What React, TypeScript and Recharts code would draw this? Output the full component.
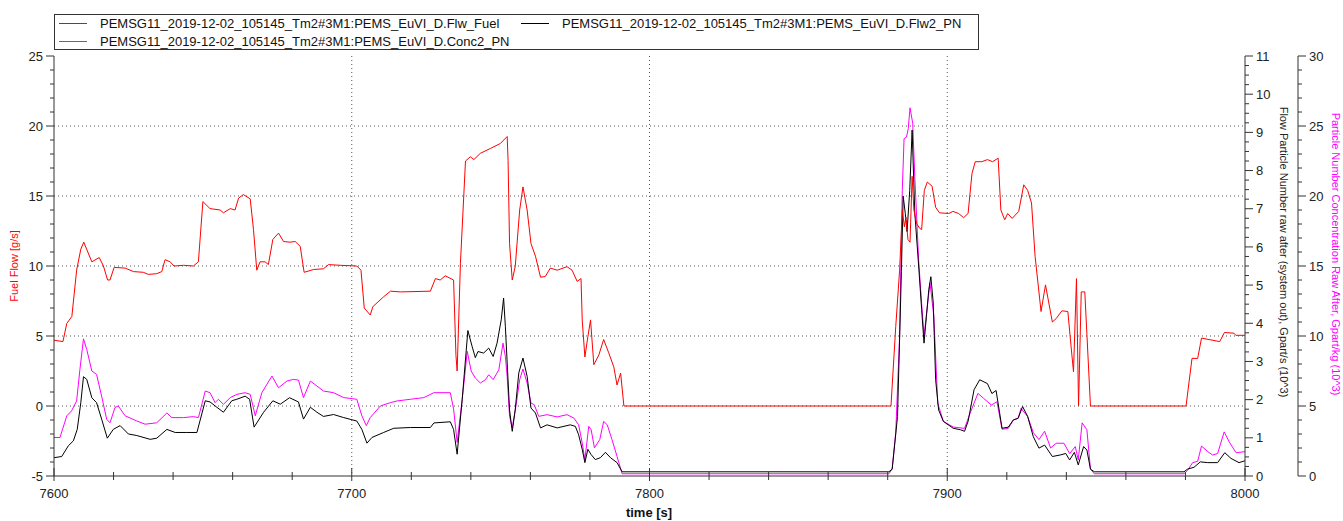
import { CartesianGrid, Legend, Line, LineChart, XAxis, YAxis } from "recharts";

const FONT = '"Liberation Sans", Arial, sans-serif';
const AXIS = "#333";

// [time s, fuel flow g/s]
const fuelFlow: [number, number][] = [
  [7600, 4.7], [7603, 4.6], [7604.3, 5.9], [7606, 6.4], [7607.6, 9.7], [7609, 11.2], [7610, 11.7],
  [7612.7, 10.3], [7615.2, 10.6], [7616.6, 10.0], [7618, 9.0], [7618.8, 9.0], [7620.2, 9.9],
  [7623.9, 9.85], [7626.7, 9.6], [7630, 9.55], [7631.7, 9.4], [7634.5, 9.45], [7636.2, 9.6],
  [7637.3, 10.45], [7639, 10.3], [7640.3, 10.0], [7643.5, 10.05], [7646.8, 10.0], [7648.5, 10.3],
  [7650, 14.6], [7652.4, 14.1], [7655.8, 14.0], [7656.9, 13.8], [7659.2, 14.1], [7660.8, 14.0],
  [7662, 14.85], [7663.6, 15.1], [7665.9, 14.8], [7667, 12.6], [7668.1, 9.7], [7669.2, 10.3],
  [7670.9, 10.3], [7672, 10.1], [7673.5, 11.9], [7675.4, 12.35], [7677.1, 11.75], [7679.3, 11.7],
  [7681, 11.75], [7682.7, 11.4], [7684, 9.55], [7687.2, 9.75], [7690.5, 9.8], [7692.2, 10.1],
  [7696.1, 10.05], [7701.7, 10.0], [7703.1, 9.7], [7704.2, 7.0], [7706.2, 6.5], [7707.1, 7.1],
  [7710.7, 7.8], [7713, 8.2], [7716.3, 8.15], [7726.4, 8.2], [7728.1, 9.1], [7729.7, 9.0],
  [7731.4, 9.3], [7734.2, 9.0], [7735, 3.6], [7735.4, 2.5], [7736.5, 10.2], [7738.2, 17.5],
  [7739.8, 17.8], [7741, 17.6], [7743.2, 18.05], [7746.6, 18.4], [7749.9, 18.75], [7752.2, 19.25],
  [7752.5, 17.55], [7753, 11.6], [7753.9, 9.0], [7754.9, 9.95], [7756.4, 14.0], [7757.5, 15.65],
  [7758.9, 14.0], [7760.2, 11.6], [7761.7, 10.7], [7763.4, 9.2], [7765, 9.25], [7766.7, 9.85],
  [7769, 9.7], [7772.3, 9.95], [7774, 9.7], [7775.7, 8.9], [7777, 9.1], [7777.4, 6.15],
  [7778.3, 3.5], [7779.3, 4.95], [7780.2, 6.15], [7781.3, 2.95], [7783, 3.65], [7784.6, 4.75],
  [7786.3, 3.8], [7788, 2.8], [7789.1, 1.5], [7790.3, 2.35], [7791.4, 0], [7881.1, 0],
  [7882.7, 5.67], [7884, 9.7], [7884.9, 14.0], [7885.6, 12.8], [7886.1, 13.5], [7886.8, 11.9],
  [7887.5, 11.7], [7888.2, 16.4], [7888.8, 14.0], [7889.7, 13.05], [7890.7, 12.7], [7891.4, 12.6],
  [7892.3, 15.4], [7893.3, 16.0], [7894.9, 15.7], [7896.1, 14.2], [7897.4, 13.8], [7900.5, 13.75],
  [7901.9, 13.9], [7903.8, 13.75], [7905.5, 13.45], [7907, 13.75], [7908.3, 16.6], [7909.4, 17.45],
  [7911.6, 17.45], [7913.5, 17.6], [7915.2, 17.45], [7917.1, 17.7], [7918, 14.0], [7919.3, 13.3],
  [7920.3, 13.75], [7921.8, 13.4], [7924, 13.9], [7925.7, 15.8], [7927, 15.4], [7928.3, 14.5],
  [7929.5, 10.7], [7931.5, 6.75], [7933, 8.65], [7935.3, 6.0], [7936.6, 6.25], [7938.5, 6.8],
  [7940.5, 6.75], [7941.7, 4.0], [7942.4, 2.45], [7943.4, 9.1], [7944.1, 0], [7945, 8.15],
  [7946.2, 8.15], [7948.1, 0], [7980.2, 0], [7982.2, 3.4], [7984.1, 3.4], [7985.4, 4.85],
  [7991.5, 4.6], [7993.1, 5.25], [7996.3, 5.2], [7996.9, 5.05], [8000, 5.05],
];

// [time s, particle number flow Gpart/s (10^3)]
const pnFlow: [number, number][] = [
  [7600, 0.48], [7602.6, 0.51], [7604.8, 0.79], [7606.5, 0.92], [7607.8, 1.22], [7609, 1.92],
  [7609.9, 2.6], [7611, 2.53], [7612.7, 2.05], [7614.3, 1.92], [7616, 1.49], [7617.9, 0.99],
  [7619.9, 1.22], [7622.2, 1.32], [7625, 1.1], [7627.8, 1.06], [7632.3, 0.96], [7634.5, 0.99],
  [7637.9, 1.22], [7640.7, 1.14], [7644.6, 1.14], [7648, 1.14], [7650.8, 1.97], [7652.4, 1.94],
  [7654.7, 1.8], [7656.9, 1.67], [7659.7, 1.97], [7661.4, 2.01], [7664.2, 2.09], [7665.7, 2.01],
  [7667.2, 1.28], [7670.4, 1.67], [7673.5, 1.97], [7676, 1.88], [7679.1, 2.05], [7682.1, 1.94],
  [7683.8, 1.49], [7686.1, 1.8], [7688.3, 1.67], [7690.5, 1.56], [7693.9, 1.61], [7697.3, 1.53],
  [7701.7, 1.44], [7703.4, 1.22], [7705.1, 0.86], [7706.8, 1.01], [7710.7, 1.14], [7714.1, 1.25],
  [7719.7, 1.27], [7726.4, 1.27], [7727.6, 1.39], [7733.1, 1.42], [7734.2, 1.22], [7735.4, 0.57],
  [7737.1, 2.01], [7739, 3.81], [7740.4, 3.4], [7741.5, 3.1], [7742.4, 3.26], [7744.3, 3.22],
  [7746, 3.35], [7747.5, 3.13], [7748.8, 3.48], [7750.2, 4.09], [7751, 4.66], [7751.6, 3.91],
  [7752.2, 2.96], [7753, 1.73], [7753.9, 1.17], [7754.9, 1.73], [7756.1, 2.7], [7757.5, 3.09],
  [7758.9, 2.61], [7760.2, 1.78], [7761.7, 1.65], [7763.4, 1.26], [7765.6, 1.34], [7769, 1.26],
  [7773.4, 1.34], [7775.1, 1.3], [7776.2, 1.08], [7777.4, 0.7], [7778.3, 0.35], [7779.3, 0.7],
  [7780.4, 0.56], [7781.8, 0.43], [7783.5, 0.48], [7785.2, 0.62], [7786.9, 0.48], [7789.1, 0.35],
  [7790.8, 0.11], [7880.4, 0.11], [7881.5, 0.18], [7883.3, 1.56], [7884.6, 5.35], [7885.2, 7.33],
  [7885.9, 6.88], [7886.5, 6.4], [7887.4, 7.48], [7888.2, 9.06], [7889.1, 6.89], [7890.4, 5.5],
  [7891.4, 4.36], [7892.2, 3.48], [7893, 4.18], [7893.8, 4.88], [7894.5, 5.22], [7895.3, 4.53],
  [7896.1, 2.52], [7897.1, 1.73], [7898.7, 1.43], [7902, 1.25], [7904.5, 1.21], [7905.8, 1.17],
  [7907, 1.43], [7909, 2.26], [7910.9, 2.52], [7913.5, 2.42], [7915, 2.16], [7916.4, 2.24],
  [7918.4, 1.25], [7920.5, 1.28], [7922.2, 1.47], [7923.8, 1.51], [7925.3, 1.82], [7927, 1.56],
  [7928.9, 1.03], [7930.8, 0.73], [7932.7, 0.81], [7935.3, 0.51], [7937.9, 0.55], [7939.8, 0.59],
  [7941.1, 0.42], [7942.7, 0.62], [7944, 0.29], [7945.8, 0.77], [7946.9, 0.68], [7948.1, 0.18],
  [7949.4, 0.11], [7979.5, 0.11], [7980.7, 0.18], [7982.9, 0.23], [7985, 0.37], [7987.5, 0.35],
  [7990.8, 0.35], [7993.2, 0.61], [7995.3, 0.46], [7998, 0.35], [8000, 0.4],
];

// [time s, particle number concentration Gpart/kg (10^3)]
const concPN: [number, number][] = [
  [7600, 2.75], [7602, 2.75], [7604.3, 4.3], [7605.9, 4.65], [7607.6, 5.36], [7608.7, 7.6],
  [7609.9, 9.8], [7611, 9.04], [7612.7, 7.5], [7614.3, 7.26], [7616, 5.7], [7617.7, 4.05],
  [7618.8, 3.8], [7620.5, 4.9], [7621.6, 5.0], [7623.9, 4.3], [7627.8, 3.93], [7630.6, 3.7],
  [7634.5, 3.8], [7637.9, 4.5], [7639.6, 4.17], [7643.5, 4.17], [7646.8, 4.24], [7648.5, 4.17],
  [7650.8, 6.07], [7652.4, 5.95], [7654.1, 5.24], [7655.2, 5.48], [7656.9, 5.12], [7659.2, 5.6],
  [7661.4, 5.83], [7664.2, 5.95], [7665.9, 5.83], [7667.6, 4.3], [7669.8, 5.95], [7673.2, 7.14],
  [7675.4, 6.3], [7678.2, 6.78], [7680.4, 6.9], [7682.1, 6.85], [7683.8, 5.6], [7686.1, 6.78],
  [7688.3, 6.43], [7690.5, 6.07], [7693.9, 5.95], [7697.3, 5.6], [7701.7, 5.48], [7703.4, 4.3],
  [7704.9, 3.6], [7706.2, 4.17], [7709.6, 5.0], [7713, 5.24], [7715.2, 5.36], [7719.7, 5.48],
  [7724.2, 5.6], [7727.6, 5.95], [7733.1, 5.95], [7734.2, 4.8], [7735.4, 2.4], [7737.1, 5.48],
  [7738.8, 8.9], [7740.1, 7.5], [7741.5, 7.0], [7743.2, 6.64], [7744.9, 6.88], [7746, 7.23],
  [7747.5, 6.88], [7749.4, 7.59], [7750.8, 9.49], [7751.6, 8.53], [7752.2, 7.11], [7753, 4.26],
  [7753.9, 3.43], [7755.3, 5.21], [7756.4, 6.88], [7757.5, 7.64], [7758.9, 6.64], [7760.2, 5.21],
  [7761.3, 5.09], [7762.8, 4.26], [7765.6, 4.38], [7769, 4.22], [7772.3, 4.38], [7774.6, 4.14],
  [7776.2, 3.66], [7777.4, 2.36], [7778.3, 1.17], [7779.6, 3.55], [7780.4, 3.31], [7781.5, 2.01],
  [7783.3, 2.6], [7784.6, 3.9], [7785.8, 3.66], [7787.4, 2.6], [7789.1, 1.4], [7790.8, 0.16],
  [7880.4, 0.16], [7881.5, 0.5], [7882.7, 3.1], [7884, 10.0], [7884.9, 20.4], [7885.5, 24.1],
  [7886.3, 24.2], [7886.9, 24.8], [7887.5, 26.3], [7888.4, 25.2], [7889.1, 21.4], [7890.4, 15.4],
  [7891.4, 12.3], [7892.2, 10.0], [7894.2, 13.8], [7895.5, 11.4], [7896.8, 5.2], [7898.7, 3.9],
  [7902, 3.5], [7905.8, 3.4], [7907.7, 4.5], [7910.3, 5.9], [7912.2, 5.55], [7914.8, 5.07],
  [7916.7, 5.3], [7918.4, 3.34], [7920.5, 3.4], [7922.2, 4.0], [7923.8, 4.13], [7924.8, 4.83],
  [7927, 4.25], [7928.9, 3.1], [7930.8, 2.6], [7932.7, 3.2], [7934.7, 2.0], [7936.6, 2.34],
  [7939.2, 2.34], [7941.1, 1.6], [7943, 2.1], [7944, 1.15], [7945.3, 3.8], [7946.9, 3.3],
  [7948.1, 0.5], [7949.4, 0.16], [7979.5, 0.16], [7980.7, 0.4], [7982.4, 0.95], [7984.1, 1.05],
  [7985.4, 2.14], [7987.5, 1.74], [7989.1, 1.5], [7990.8, 1.6], [7993, 3.15], [7994.7, 2.44],
  [7997, 1.66], [8000, 1.74],
];

const seriesNames = [
  "PEMSG11_2019-12-02_105145_Tm2#3M1:PEMS_EuVI_D.Flw_Fuel",
  "PEMSG11_2019-12-02_105145_Tm2#3M1:PEMS_EuVI_D.Flw2_PN",
  "PEMSG11_2019-12-02_105145_Tm2#3M1:PEMS_EuVI_D.Conc2_PN",
];
const seriesColors = ["#ff0000", "#000000", "#ff00ff"];

const timeTicks = [7600, 7700, 7800, 7900, 8000];
const fuelTicks = [-5, 0, 5, 10, 15, 20, 25];
const pnTicks = [0, 1, 2, 3, 4, 5, 6, 7, 8, 9, 10, 11];
const concTicks = [0, 5, 10, 15, 20, 25, 30];

// subdivide major ticks into minor steps
const withMinor = (major: number[], parts: number) => {
  const out: number[] = [];
  for (let i = 0; i < major.length - 1; i++) {
    const step = (major[i + 1] - major[i]) / parts;
    for (let k = 0; k < parts; k++) out.push(Math.round((major[i] + k * step) * 1000) / 1000);
  }
  out.push(major[major.length - 1]);
  return out;
};

const toPoints = (rows: [number, number][]) => rows.map(([t, v]) => ({ t, v }));

const textStyle = { fontFamily: FONT, fontSize: 13, fill: "#222" };

const makeYTick = (major: number[], dir: 1 | -1) => (props: any) => {
  const { x, y, payload } = props;
  const isMajor = major.includes(payload.value);
  const len = isMajor ? 8 : 4;
  return (
    <g>
      <line x1={x} x2={x + dir * len} y1={y} y2={y} stroke={AXIS} />
      {isMajor && (
        <text x={x + dir * 11} y={y} dy="0.36em" textAnchor={dir < 0 ? "end" : "start"} {...textStyle}>
          {payload.value}
        </text>
      )}
    </g>
  );
};

const BottomTick = (props: any) => {
  const { x, y, payload } = props;
  const isMajor = timeTicks.includes(payload.value);
  return (
    <g>
      <line x1={x} x2={x} y1={y - (isMajor ? 8 : 4)} y2={y + (isMajor ? 5 : 4)} stroke={AXIS} />
      {isMajor && (
        <text x={x} y={y + 22} textAnchor="middle" {...textStyle}>
          {payload.value}
        </text>
      )}
    </g>
  );
};

const TopTick = (props: any) => {
  const { x, y, payload } = props;
  const isMajor = timeTicks.includes(payload.value);
  return <line x1={x} x2={x} y1={y} y2={y + (isMajor ? 6 : 4)} stroke={AXIS} />;
};

const LegendBox = () => {
  const spots = [
    { left: 4, top: 8 },
    { left: 466, top: 8 },
    { left: 4, top: 26 },
  ];
  return (
    <div
      style={{
        position: "relative",
        width: 923,
        height: 34,
        border: "1px solid #333",
        background: "#fff",
        fontFamily: FONT,
        fontSize: 13,
        color: "#111",
      }}
    >
      {seriesNames.map((name, i) => (
        <div
          key={name}
          style={{
            position: "absolute",
            left: spots[i].left,
            top: spots[i].top - 8,
            height: 16,
            display: "flex",
            alignItems: "center",
            whiteSpace: "nowrap",
          }}
        >
          <div style={{ width: 28, height: 1, background: seriesColors[i], marginRight: 13, flex: "none" }} />
          <span>{name}</span>
        </div>
      ))}
    </div>
  );
};

const titleStyle = { fontFamily: FONT, fontSize: 11 };

export default function App() {
  return (
    <div style={{ position: "absolute", left: 0, top: 0, background: "#fff" }}>
      <LineChart width={1343} height={521} margin={{ top: 56, right: 0, bottom: 0, left: 0 }}>
        <CartesianGrid
          yAxisId="fuel"
          horizontalValues={[0, 5, 10, 15, 20]}
          verticalValues={[7700, 7800, 7900]}
          stroke="#555"
          strokeDasharray="1 3"
        />
        <XAxis
          dataKey="t"
          type="number"
          domain={[7600, 8000]}
          allowDataOverflow
          ticks={withMinor(timeTicks, 5)}
          interval={0}
          height={45}
          tickSize={0}
          tickMargin={0}
          tick={BottomTick}
          axisLine={{ stroke: AXIS }}
          tickLine={false}
          label={() => (
            <text x={649} y={517} textAnchor="middle" fontFamily={FONT} fontSize={13} fontWeight="bold" fill="#111">
              time [s]
            </text>
          )}
        />
        <XAxis
          xAxisId="top"
          orientation="top"
          dataKey="t"
          type="number"
          domain={[7600, 8000]}
          allowDataOverflow
          ticks={withMinor(timeTicks, 5)}
          interval={0}
          height={0}
          tickSize={0}
          tickMargin={0}
          tick={TopTick}
          axisLine={{ stroke: AXIS }}
          tickLine={false}
        />
        <YAxis
          yAxisId="fuel"
          type="number"
          domain={[-5, 25]}
          allowDataOverflow
          ticks={withMinor(fuelTicks, 5)}
          interval={0}
          width={54}
          tickSize={0}
          tickMargin={0}
          tick={makeYTick(fuelTicks, -1)}
          axisLine={{ stroke: AXIS }}
          tickLine={false}
          label={() => (
            <text x={18} y={266} transform="rotate(-90 18 266)" textAnchor="middle" fill="#ff0000" {...titleStyle}>
              Fuel Flow [g/s]
            </text>
          )}
        />
        {/* right axes stack by id: right1 next to the plot, right2 outside it */}
        <YAxis
          yAxisId="right1"
          orientation="right"
          type="number"
          domain={[0, 11]}
          allowDataOverflow
          ticks={withMinor(pnTicks, 4)}
          interval={0}
          width={53}
          tickSize={0}
          tickMargin={0}
          tick={makeYTick(pnTicks, 1)}
          axisLine={{ stroke: AXIS }}
          tickLine={false}
          label={() => (
            <text x={1280} y={252} transform="rotate(90 1280 252)" textAnchor="middle" fill="#222" {...titleStyle}>
              Flow Particle Number raw after (system out), Gpart/s (10^3)
            </text>
          )}
        />
        <YAxis
          yAxisId="right2"
          orientation="right"
          type="number"
          domain={[0, 30]}
          allowDataOverflow
          ticks={withMinor(concTicks, 5)}
          interval={0}
          width={45}
          tickSize={0}
          tickMargin={0}
          tick={makeYTick(concTicks, 1)}
          axisLine={{ stroke: AXIS }}
          tickLine={false}
          label={() => (
            <text x={1332} y={254} transform="rotate(90 1332 254)" textAnchor="middle" fill="#ff00ff" {...titleStyle}>
              Particle Number Concentration Raw After, Gpart/kg (10^3)
            </text>
          )}
        />
        <Legend
          layout="horizontal"
          align="center"
          verticalAlign="middle"
          wrapperStyle={{ top: 14, left: 54, width: 925 }}
          content={() => <LegendBox />}
        />
        <Line
          yAxisId="right2"
          data={toPoints(concPN)}
          dataKey="v"
          name={seriesNames[2]}
          type="linear"
          stroke={seriesColors[2]}
          strokeWidth={1}
          dot={false}
          isAnimationActive={false}
        />
        <Line
          yAxisId="right1"
          data={toPoints(pnFlow)}
          dataKey="v"
          name={seriesNames[1]}
          type="linear"
          stroke={seriesColors[1]}
          strokeWidth={1}
          dot={false}
          isAnimationActive={false}
        />
        <Line
          yAxisId="fuel"
          data={toPoints(fuelFlow)}
          dataKey="v"
          name={seriesNames[0]}
          type="linear"
          stroke={seriesColors[0]}
          strokeWidth={1}
          dot={false}
          isAnimationActive={false}
        />
      </LineChart>
    </div>
  );
}
